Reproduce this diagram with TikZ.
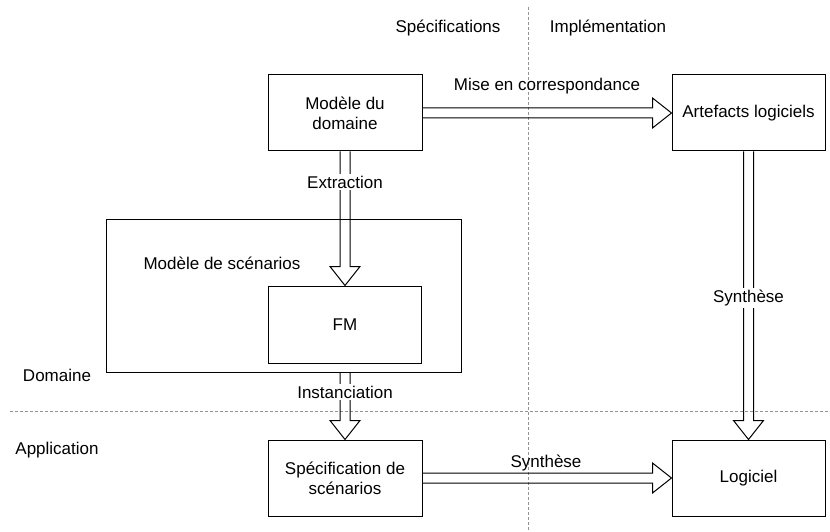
\documentclass[tikz,border=0pt]{standalone}
\usepackage{fontspec}
\setmainfont{Liberation Sans}
\usetikzlibrary{calc}
\newcommand\myfs{\fontsize{17}{20}\selectfont}
\begin{document}
\begin{tikzpicture}[x=1pt,y=-1pt,
  box/.style={draw,line width=1pt,minimum width=154pt,minimum height=76pt,align=center,inner sep=2pt,font=\myfs},
  outerbox/.style={draw,line width=1pt,minimum width=355pt,minimum height=153pt,inner sep=0pt},
  lbl/.style={font=\myfs,inner sep=1pt},
  shaftlbl/.style={font=\myfs,inner sep=1.5pt,fill=white},
  barrow/.style={draw,line width=1pt,line join=miter},
  sep/.style={draw=gray!85,line width=1pt,dash pattern=on 3pt off 2pt}
]
\useasboundingbox (0,0) rectangle (830,532);

% separators
\coordinate (hl) at (10,411);
\coordinate (hr) at (830,411);
\coordinate (vt) at (528,7);
\coordinate (vb) at (528,532);
\draw[sep] (hl) -- (hr);
\draw[sep] (vt) -- (vb);

% region labels
\node[lbl] (tspec) at (448,28) {Spécifications};
\node[lbl] (timpl) at (608,28) {Implémentation};
\node[lbl] (tdom) at (57,375) {Domaine};
\node[lbl] (tapp) at (57,450) {Application};

% boxes
\node[box] (dom) at (345,113) {Modèle du\\domaine};
\node[box,minimum width=153pt] (art) at (748.5,113) {Artefacts logiciels};
\node[outerbox] (scen) at (283.5,295.5) {};
\node[lbl] (tscen) at (222,263) {Modèle de scénarios};
\node[box,minimum width=153pt,minimum height=77pt] (fm) at (345,324.5) {FM};
\node[box] (spec) at (345,478) {Spécification de\\scénarios};
\node[box,minimum width=153pt] (log) at (748.5,478) {Logiciel};

% Mise en correspondance
\draw[barrow] ($(dom.east)+(0,-5)$) -- ($(art.west)+(-19,-5)$) -- ($(art.west)+(-19,-15)$) -- (art.west)
  -- ($(art.west)+(-19,15)$) -- ($(art.west)+(-19,5)$) -- ($(dom.east)+(0,5)$);
\node[lbl] (lmise) at (547,86) {Mise en correspondance};

% Extraction
\draw[barrow] ($(dom.south)+(-5,0)$) -- ($(fm.north)+(-5,-19)$) -- ($(fm.north)+(-15,-19)$) -- (fm.north)
  -- ($(fm.north)+(15,-19)$) -- ($(fm.north)+(5,-19)$) -- ($(dom.south)+(5,0)$);
\node[shaftlbl] (lext) at (345,182) {Extraction};

% Instanciation
\coordinate (inst0) at (scen.south -| fm.south);
\draw[barrow] ($(inst0)+(-5,0)$) -- ($(spec.north)+(-5,-19)$) -- ($(spec.north)+(-15,-19)$) -- (spec.north)
  -- ($(spec.north)+(15,-19)$) -- ($(spec.north)+(5,-19)$) -- ($(inst0)+(5,0)$);
\node[shaftlbl] (linst) at (345,392) {Instanciation};

% Synthese vertical
\draw[barrow] ($(art.south)+(-5,0)$) -- ($(log.north)+(-5,-19)$) -- ($(log.north)+(-15,-19)$) -- (log.north)
  -- ($(log.north)+(15,-19)$) -- ($(log.north)+(5,-19)$) -- ($(art.south)+(5,0)$);
\node[shaftlbl] (lsyn1) at (748.5,298) {Synthèse};

% Synthese horizontal
\draw[barrow] ($(spec.east)+(0,-5)$) -- ($(log.west)+(-19,-5)$) -- ($(log.west)+(-19,-15)$) -- (log.west)
  -- ($(log.west)+(-19,15)$) -- ($(log.west)+(-19,5)$) -- ($(spec.east)+(0,5)$);
\node[lbl] (lsyn2) at (546,463) {Synthèse};
\end{tikzpicture}
\end{document}
